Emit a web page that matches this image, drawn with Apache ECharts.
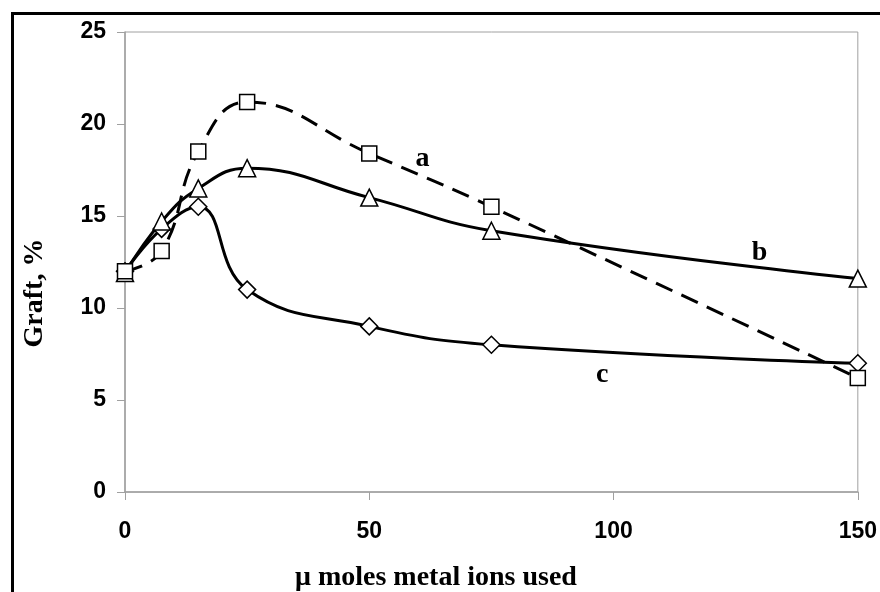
<!DOCTYPE html>
<html>
<head>
<meta charset="utf-8">
<script src="https://cdn.jsdelivr.net/npm/echarts@6/dist/echarts.min.js"></script>
<style>
html,body{margin:0;padding:0;background:#fff;}
#chart{width:880px;height:592px;}
</style>
</head>
<body>
<div id="chart"></div>
<script>
var xValues = [0, 7.5, 15, 25, 50, 75, 150];
var seriesA = [12.0, 13.1, 18.5, 21.2, 18.4, 15.5, 6.2];
var seriesB = [11.9, 14.7, 16.5, 17.6, 16.0, 14.2, 11.6];
var seriesC = [12.0, 14.3, 15.5, 11.0, 9.0, 8.0, 7.0];
var curveNames = ['a', 'b', 'c'];
var curveLabelX = [60.9, 129.9, 97.7];
var curveLabelY = [18.1, 13.0, 6.35];
var xAxisTitle = 'μ moles metal ions used';
var yAxisTitle = 'Graft, %';

function pairs(ys) { return xValues.map(function (x, i) { return [x, ys[i]]; }); }

var serif = '"Liberation Serif", "Times New Roman", serif';
var sans = '"Liberation Sans", Arial, sans-serif';

function makeSeries(idx, ys, symbol, dashed) {
  return {
    type: 'line',
    data: pairs(ys),
    smooth: 0.45,
    symbol: symbol,
    symbolSize: symbol === 'rect' ? 15 : 17,
    showAllSymbol: true,
    lineStyle: { color: '#000', width: 3, type: dashed ? [18, 10] : 'solid' },
    itemStyle: { color: '#fff', borderColor: '#000', borderWidth: 1.5 },
    z: 3 - idx,
    animation: false,
    markPoint: {
      symbol: 'circle', symbolSize: 0,
      label: {
        show: true, position: 'inside', color: '#000',
        fontFamily: serif, fontWeight: 'bold', fontSize: 28,
        formatter: curveNames[idx]
      },
      data: [{ coord: [curveLabelX[idx], curveLabelY[idx]] }]
    }
  };
}

var chart = echarts.init(document.getElementById('chart'), null, { renderer: 'canvas' });
chart.setOption({
  backgroundColor: '#fff',
  animation: false,
  grid: { left: 125, right: 18, top: 32, bottom: 100, show: true, borderColor: '#a0a0a0', borderWidth: 1 },
  xAxis: {
    type: 'value', min: 0, max: 150, interval: 50,
    axisLine: { lineStyle: { color: '#a0a0a0', width: 1.5 } },
    axisTick: { show: true, length: 8, lineStyle: { color: '#a0a0a0' } },
    splitLine: { show: false },
    axisLabel: { color: '#000', fontFamily: sans, fontWeight: 'bold', fontSize: 23, margin: 28 }
  },
  yAxis: {
    type: 'value', min: 0, max: 25, interval: 5,
    axisLine: { show: true, lineStyle: { color: '#a0a0a0', width: 1.5 } },
    axisTick: { show: true, length: 8, lineStyle: { color: '#a0a0a0' } },
    splitLine: { show: false },
    axisLabel: { color: '#000', fontFamily: sans, fontWeight: 'bold', fontSize: 23, margin: 19 }
  },
  series: [
    makeSeries(0, seriesA, 'rect', true),
    makeSeries(1, seriesB, 'triangle', false),
    makeSeries(2, seriesC, 'diamond', false)
  ],
  graphic: [
    { type: 'rect', left: 10, top: 11, shape: { x: 0, y: 0, width: 900, height: 620 },
      style: { fill: 'none', stroke: '#000', lineWidth: 3 }, silent: true },
    { type: 'text', x: 436, y: 578,
      style: { text: xAxisTitle, fill: '#000', font: 'bold 28px ' + serif, textAlign: 'center', textVerticalAlign: 'middle' } },
    { type: 'text', x: 35, y: 293, rotation: Math.PI / 2,
      style: { text: yAxisTitle, fill: '#000', font: 'bold 28px ' + serif, textAlign: 'center', textVerticalAlign: 'middle' } }
  ]
});
</script>
</body>
</html>
